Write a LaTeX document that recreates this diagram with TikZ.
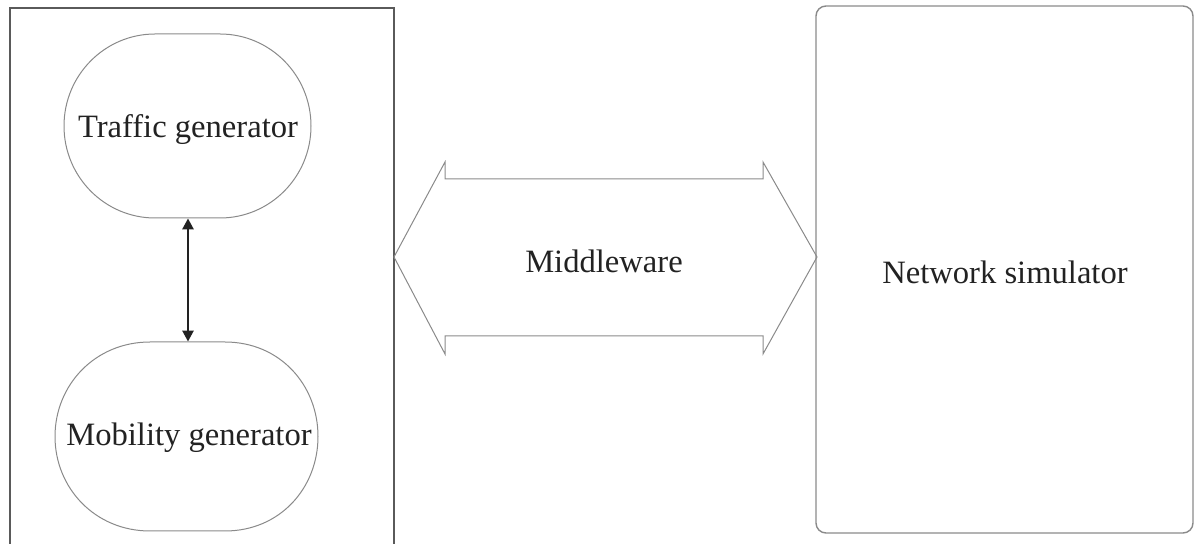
\documentclass[tikz,border=0pt]{standalone}
\usepackage{fontspec}
\setmainfont{Liberation Serif}
\usetikzlibrary{arrows.meta}
\definecolor{inkgray}{HTML}{222222}
\definecolor{linegray}{HTML}{8A8A8A}
\definecolor{framegray}{HTML}{5A5A5A}
\tikzset{
  label text/.style={font=\fontsize{16.3}{19}\selectfont, text=inkgray, inner sep=0pt},
  oval/.style={draw=none, minimum width=#1, inner sep=0pt},
  outline/.style={draw=linegray, line width=0.5pt},
  frame/.style={draw=framegray, line width=0.8pt},
  link/.style={draw=inkgray, line width=1.3pt, {Triangle[length=5.5pt,width=5.5pt]}-{Triangle[length=5.5pt,width=5.5pt]}}
}
\begin{document}
\begin{tikzpicture}[x=0.5pt, y=-0.5pt]
  \useasboundingbox (0,0) rectangle (1200,544);
  \begin{scope}
    \clip (0,0) rectangle (1200,544);
    % left container, open at the bottom edge
    \draw[frame] (10,560) -- (10,8) -- (394,8) -- (394,560);
  \end{scope}

  % generator ovals (flat top and bottom, elliptic sides)
  \node[oval=247, minimum height=92pt] (traffic) at (187.5,126) {};
  \node[oval=263, minimum height=94.5pt] (mobility) at (186.5,436.5) {};

  \draw[outline] (155,34) -- (220,34)
     .. controls (270,34) and (311,75) .. (311,126)
     .. controls (311,177) and (270,218) .. (220,218)
     -- (155,218)
     .. controls (105,218) and (64,177) .. (64,126)
     .. controls (64,75) and (105,34) .. (155,34) -- cycle;

  \draw[outline] (150,342) -- (225,342)
     .. controls (280,342) and (318,385) .. (318,436.5)
     .. controls (318,488) and (280,531) .. (225,531)
     -- (150,531)
     .. controls (95,531) and (55,488) .. (55,436.5)
     .. controls (55,385) and (95,342) .. (150,342) -- cycle;

  \node[label text] (trafficlabel) at (188,130) {Traffic generator};
  \node[label text] (mobilitylabel) at (189,438) {Mobility generator};

  \draw[link] (traffic.south -| 188,0) -- (mobility.north -| 188,0);

  % middleware double arrow
  \draw[outline] (394,257) -- (445,162) -- (445,179) -- (763,179) -- (763,162)
     -- (817,257) -- (763,354) -- (763,336) -- (445,336) -- (445,354) -- cycle;
  \node[label text] (middleware) at (604,261) {Middleware};

  % simulator box
  \draw[outline, line width=0.7pt, rounded corners=5pt] (816,6) rectangle (1193,533);
  \node[label text] (simulator) at (1005,272) {Network simulator};
\end{tikzpicture}
\end{document}
